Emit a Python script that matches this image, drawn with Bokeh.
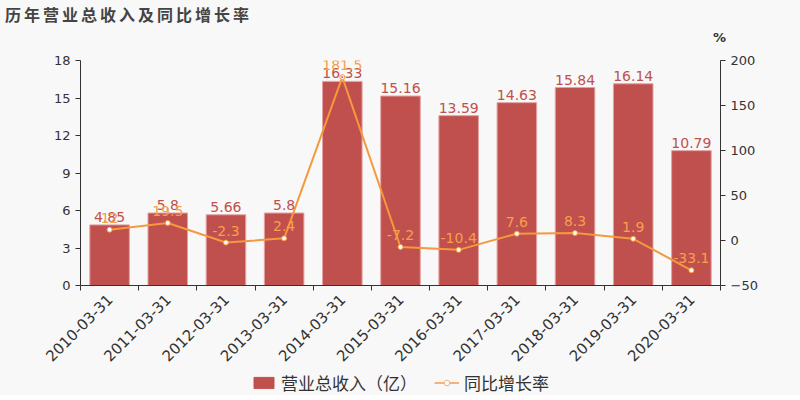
import numpy as np
from bokeh.plotting import figure
from bokeh.layouts import column
from bokeh.models import (ColumnDataSource, Range1d, LinearAxis, FixedTicker, Legend,
                          LegendItem, LabelSet, Div)
from bokeh.core.properties import value
from bokeh.embed import file_html
from bokeh.resources import INLINE

categories = ["2010-03-31", "2011-03-31", "2012-03-31", "2013-03-31", "2014-03-31",
              "2015-03-31", "2016-03-31", "2017-03-31", "2018-03-31", "2019-03-31",
              "2020-03-31"]
revenue = [4.85, 5.8, 5.66, 5.8, 16.33, 15.16, 13.59, 14.63, 15.84, 16.14, 10.79]
growth = [12, 19.5, -2.3, 2.4, 181.5, -7.2, -10.4, 7.6, 8.3, 1.9, -33.1]
left_ticks = [0, 3, 6, 9, 12, 15, 18]
right_ticks = [-50, 0, 50, 100, 150, 200]
title_text = "历年营业总收入及同比增长率"
unit_text = "%"
bar_name = "营业总收入（亿）"
line_name = "同比增长率"

BG = "#f8f8f8"
BAR = "#c0504d"
LINE = "#f5993c"
LINE_TXT = "#f5a04a"
TXT = "#333333"
NUM_FONT = "DejaVu Sans"
CJK = "Noto Sans CJK SC"
W = 800

n = len(categories)
xs = np.arange(n) + 0.5
src = ColumnDataSource(dict(
    x=xs, rev=revenue, gr=growth,
    rev_txt=[f"{v:g}" for v in revenue],
    gr_txt=[f"{v:g}" for v in growth],
))

# ---------- header: title and unit ----------
head_html = (
    f'<div style="position:relative;width:{W}px;height:50px;background:{BG};">'
    f'<span style="position:absolute;left:5px;top:3px;font-family:\'{CJK}\';'
    f'font-size:16px;font-weight:bold;letter-spacing:3px;color:#444444;line-height:22px;'
    f'white-space:nowrap;">{title_text}</span>'
    f'<span style="position:absolute;left:713px;top:30px;font-family:\'{NUM_FONT}\';'
    f'font-size:13px;font-weight:bold;color:{TXT};line-height:16px;">{unit_text}</span>'
    f'</div>'
)
h = Div(text=head_html, width=W, height=50, margin=(0, 0, 0, 0))

# ---------- main chart ----------
p = figure(frame_width=640, frame_height=225, output_backend="svg", toolbar_location=None,
           x_range=Range1d(0, n), y_range=Range1d(left_ticks[0], left_ticks[-1]),
           background_fill_color=BG, border_fill_color=BG,
           min_border_left=80, min_border_right=80, min_border_top=10, min_border_bottom=0,
           outline_line_color=None)
p.extra_y_ranges = {"pct": Range1d(right_ticks[0], right_ticks[-1])}
p.xgrid.visible = False
p.ygrid.visible = False

xa = p.xaxis[0]
xa.ticker = FixedTicker(ticks=list(xs), minor_ticks=list(range(n + 1)))
xa.major_label_overrides = {float(x): c for x, c in zip(xs, categories)}
xa.major_tick_line_color = None
xa.major_tick_out = 0
xa.major_tick_in = 0
xa.minor_tick_line_color = TXT
xa.minor_tick_out = 5
xa.minor_tick_in = 0
xa.major_label_orientation = np.pi / 4
xa.major_label_text_font = NUM_FONT
xa.major_label_text_font_size = "15px"
xa.major_label_text_color = TXT
xa.major_label_standoff = 6
xa.axis_line_color = TXT

ya = p.yaxis[0]
ya.ticker = FixedTicker(ticks=left_ticks)
ya.minor_tick_line_color = None
ya.major_tick_in = 0
ya.major_tick_out = 5
ya.major_label_text_font = NUM_FONT
ya.major_label_text_font_size = "13px"
ya.major_label_text_color = TXT
ya.axis_line_color = TXT
ya.major_tick_line_color = TXT

ra = LinearAxis(y_range_name="pct", ticker=FixedTicker(ticks=right_ticks))
ra.minor_tick_line_color = None
ra.major_tick_in = 0
ra.major_tick_out = 5
ra.major_label_text_font = NUM_FONT
ra.major_label_text_font_size = "13px"
ra.major_label_text_color = TXT
ra.axis_line_color = TXT
ra.major_tick_line_color = TXT
p.add_layout(ra, "right")

p.vbar(x="x", top="rev", bottom=0, width=0.68, source=src,
       fill_color=BAR, line_color="#e3a3a2", line_width=1)
p.line(x="x", y="gr", source=src, y_range_name="pct", line_color=LINE, line_width=2)
p.scatter(x="x", y="gr", source=src, y_range_name="pct", size=5,
          fill_color="white", line_color=LINE, line_width=1)

p.add_layout(LabelSet(x="x", y="rev", text="rev_txt", source=src, text_align="center",
                      text_baseline="bottom", y_offset=3, text_color=BAR,
                      text_font=value(NUM_FONT), text_font_size="14px"))
p.add_layout(LabelSet(x="x", y="gr", text="gr_txt", source=src, y_range_name="pct",
                      text_align="center", text_baseline="bottom", y_offset=7,
                      text_color=LINE_TXT, text_font=value(NUM_FONT), text_font_size="14px"))

# ---------- legend strip (series drawn out of view, only their legend keys show) ----------
q = figure(width=W, height=26, output_backend="svg", toolbar_location=None,
           x_range=Range1d(0, n), y_range=Range1d(1000, 1001),
           x_axis_type=None, y_axis_type=None, min_border=0,
           background_fill_color=BG, border_fill_color=BG, outline_line_color=None)
q.grid.visible = False
lg_bar = q.vbar(x="x", top="rev", bottom=0, width=0.68, source=src,
                fill_color=BAR, line_color=BAR)
lg_line = q.line(x="x", y="gr", source=src, line_color="#f7b27a", line_width=2)
lg_pt = q.scatter(x="x", y="gr", source=src, size=12, fill_color="white",
                  line_color="#f7b27a", line_width=1)
legend = Legend(items=[LegendItem(label=bar_name, renderers=[lg_bar]),
                       LegendItem(label=line_name, renderers=[lg_line, lg_pt])],
                orientation="horizontal", location="center",
                background_fill_alpha=0, border_line_color=None,
                label_text_font=CJK, label_text_font_size="17px", label_text_color=TXT,
                glyph_width=25, glyph_height=14, spacing=17, padding=0, margin=0,
                label_standoff=5)
q.add_layout(legend)

layout = column(h, p, q, spacing=0, background=BG)
open("out.html", "w").write(file_html(layout, INLINE))
